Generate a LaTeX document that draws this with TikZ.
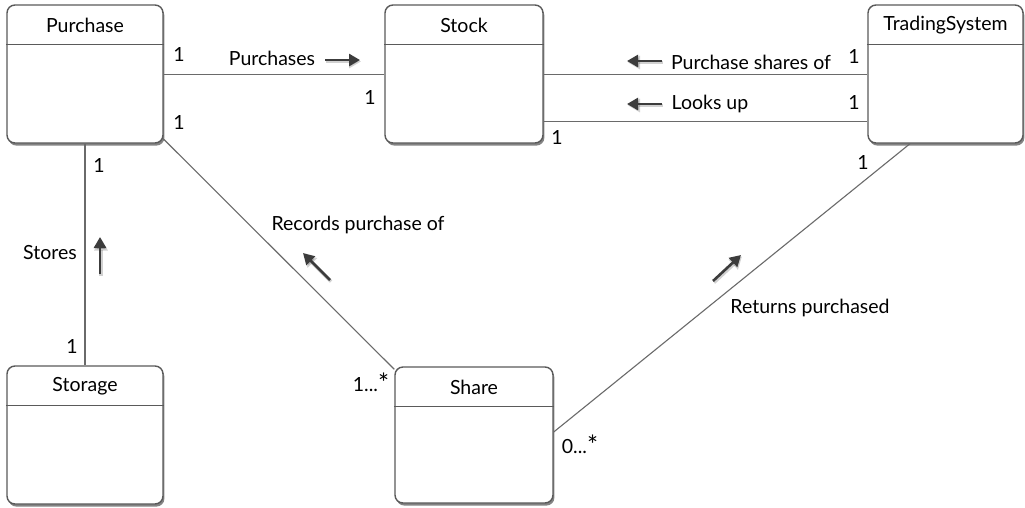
\documentclass[tikz,border=0pt]{standalone}
\usepackage{fontspec}
\setmainfont{Lato}
\usetikzlibrary{shadows,arrows.meta}
\definecolor{boxline}{HTML}{5A5A5A}
\definecolor{connline}{HTML}{6A6A6A}
\definecolor{arrowgray}{HTML}{3C3C3C}
\newcommand{\manystar}{\raisebox{-1.5pt}{\fontsize{26}{26}\selectfont *}}
\tikzset{
  umlbox/.style={draw=boxline, line width=1.4pt, fill=white, rounded corners=8pt,
    minimum width=156pt, minimum height=138pt, inner sep=0pt,
    drop shadow={shadow xshift=1.4pt, shadow yshift=-2.6pt, opacity=0.6, fill=black!80}},
  boxtitle/.style={font=\fontsize{19.5}{22}\selectfont, text=black, inner sep=0pt},
  divider/.style={draw=boxline, line width=1.3pt},
  assoc/.style={draw=connline, line width=1.1pt},
  lbl/.style={font=\fontsize{19.5}{22}\selectfont, text=black, inner sep=0pt},
  mult/.style={font=\fontsize{19.5}{22}\selectfont, text=black, inner sep=0pt},
  dirarrow/.style={draw=arrowgray, line width=2.6pt,
    -{Triangle[length=11pt,width=12pt]}},
  dirshadow/.style={draw=black, opacity=0.18, line width=3.4pt,
    -{Triangle[length=12pt,width=13pt]}},
}
\begin{document}
\begin{tikzpicture}[x=1pt,y=-1pt]
\useasboundingbox[fill=white] (0,0) rectangle (1025,507);

% class boxes
\node[umlbox] (pur)   at (85,74)    {};
\node[umlbox, minimum width=158pt] (stock) at (464,74) {};
\node[umlbox, minimum width=155pt] (trade) at (945.5,74) {};
\node[umlbox] (stor)  at (85,435)   {};
\node[umlbox, minimum width=158pt, minimum height=136pt] (share) at (474,435) {};

% header compartments
\foreach \b in {pur,stock,trade,stor,share}{
  \draw[divider] ([yshift=-40.5pt]\b.north west) -- ([yshift=-40.5pt]\b.north east);
}

% class names
\node[boxtitle] (purT)   at ([yshift=-21pt]pur.north)   {Purchase};
\node[boxtitle] (stockT) at ([yshift=-21pt]stock.north) {Stock};
\node[boxtitle] (tradeT) at ([yshift=-21pt]trade.north) {TradingSystem};
\node[boxtitle] (storT)  at ([yshift=-21pt]stor.north)  {Storage};
\node[boxtitle] (shareT) at ([yshift=-21pt]share.north) {Share};

% associations
\draw[assoc] ([yshift=-70pt]pur.north east) -- ([yshift=-70pt]stock.north west);
\draw[assoc] ([yshift=-70pt]stock.north east) -- ([yshift=-70pt]trade.north west);
\draw[assoc] ([yshift=-117pt]stock.north east) -- ([yshift=-117pt]trade.north west);
\draw[assoc] (pur.south) -- (stor.north);
\draw[assoc] ([xshift=-0.5pt,yshift=5pt]pur.south east) -- ([yshift=-3pt]share.north west);
\draw[assoc] ([xshift=-35.5pt]trade.south) -- ([yshift=3pt]share.east);

% association names
\node[lbl] (lPurch)  at (272,58)  {Purchases};
\node[lbl] (lShares) at (751,62)  {Purchase shares of};
\node[lbl] (lLooks)  at (710,104) {Looks up};
\node[lbl] (lStores) at (50,253)  {Stores};
\node[lbl] (lRecord) at (358,225) {Records purchase of};
\node[lbl] (lReturn) at (810,308) {Returns purchased};

% reading-direction arrows (with a faint shadow)
\foreach \xa/\ya/\xb/\yb in {325/60/360/60, 662/61/627/61, 662/104/627/104,
                             100/274/100/237, 330/280/303/253, 713/281/741/255}{
  \draw[dirshadow] (\xa+1,\ya+1.5) -- (\xb+1,\yb+1.5);
  \draw[dirarrow] (\xa,\ya) -- (\xb,\yb);
}

% multiplicities
\node[mult] (m1) at (179,54)  {1};
\node[mult] (m2) at (370,97)  {1};
\node[mult] (m3) at (179,122) {1};
\node[mult] (m4) at (854,56)  {1};
\node[mult] (m5) at (854,102) {1};
\node[mult] (m6) at (557,137) {1};
\node[mult] (m7) at (863,162) {1};
\node[mult] (m8) at (99,165)  {1};
\node[mult] (m9) at (72,346)  {1};
\node[mult] (m10) at (371,383) {1...\manystar};
\node[mult] (m11) at (580,445) {0...\manystar};
\end{tikzpicture}
\end{document}
